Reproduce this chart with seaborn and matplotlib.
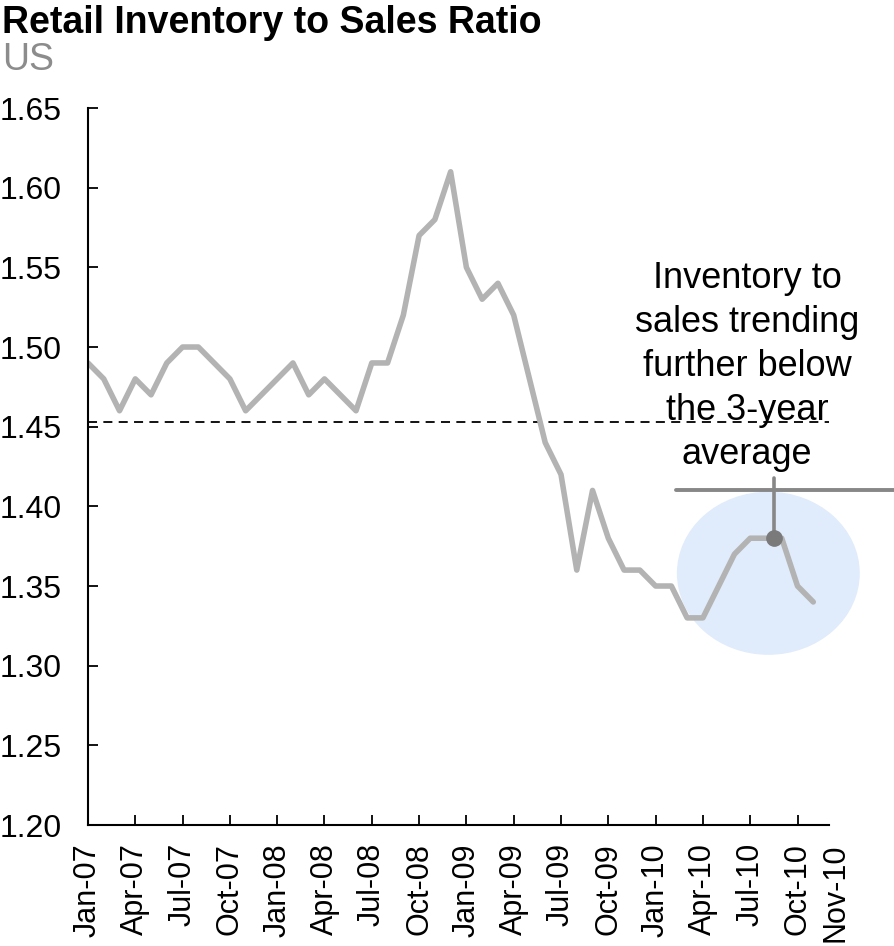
import numpy as np
import pandas as pd
import matplotlib
matplotlib.use("Agg")
import matplotlib.pyplot as plt
import seaborn as sns
from matplotlib.patches import Ellipse
from matplotlib.ticker import FormatStrFormatter
from matplotlib.transforms import blended_transform_factory, ScaledTranslation

# Monthly retail inventory-to-sales ratio, Jan-2007 .. Nov-2010
months = pd.date_range("2007-01-01", "2010-11-01", freq="MS")
ratio = [
    1.49, 1.48, 1.46, 1.48, 1.47, 1.49, 1.50, 1.50, 1.49, 1.48, 1.46, 1.47,  # 2007
    1.48, 1.49, 1.47, 1.48, 1.47, 1.46, 1.49, 1.49, 1.52, 1.57, 1.58, 1.61,  # 2008
    1.55, 1.53, 1.54, 1.52, 1.48, 1.44, 1.42, 1.36, 1.41, 1.38, 1.36, 1.36,  # 2009
    1.35, 1.35, 1.33, 1.33, 1.35, 1.37, 1.38, 1.38, 1.38, 1.35, 1.34,        # 2010
]
avg_level = 1.453          # 3-year average
callout_value = 1.38       # highlighted reading
month_labels = [d.strftime("%b-%y") for d in months]
y_ticks = [1.20, 1.25, 1.30, 1.35, 1.40, 1.45, 1.50, 1.55, 1.60, 1.65]

title = "Retail Inventory to Sales Ratio"
subtitle = "US"
note = "Inventory to\nsales trending\nfurther below\nthe 3-year\naverage"

sns.set_theme(style="white")
plt.rcParams["font.family"] = ["Liberation Sans", "DejaVu Sans"]

df = pd.DataFrame({"month": np.arange(len(ratio)), "ratio": ratio})

fig = plt.figure(figsize=(8.95, 9.46), dpi=100)
ax = fig.add_axes([0.0983, 0.1279, 0.828, 0.7579])

# highlight bubble behind the latest readings
ax.add_patch(Ellipse((43.15, 1.358), 11.6, 0.1024, facecolor="#e0ecfb",
                     edgecolor="none", zorder=0, clip_on=False))

ax.axhline(avg_level, color="black", lw=1.3, ls=(0, (5, 3.5)), zorder=1)

sns.lineplot(data=df, x="month", y="ratio", color="#b3b3b3", lw=4.0,
             ax=ax, zorder=2)

# callout
ax.plot([37.3, 51.5], [1.41, 1.41], color="#878787", lw=2.8, clip_on=False, zorder=3)
ax.plot([43.5, 43.5], [callout_value, 1.4176], color="#878787", lw=2.6, zorder=3)
ax.plot([43.5], [callout_value], "o", color="#7a7a7a", ms=11, zorder=4)
ax.text(41.8, 1.554, note, ha="center", va="top", fontsize=26,
        linespacing=1.33, color="black", zorder=5)

ax.set_xlim(0, 47)
ax.set_ylim(1.20, 1.65)
ax.set_yticks(y_ticks)
ax.yaxis.set_major_formatter(FormatStrFormatter("%.2f"))

tick_pos = list(range(0, len(ratio) - 1, 3))
ax.set_xticks(tick_pos, labels=[month_labels[i] for i in tick_pos], rotation=90)

# final month label, nudged right of the last tick
last = len(ratio) - 1
trans = blended_transform_factory(ax.transData, ax.transAxes) + \
    ScaledTranslation(0.22, -0.18, fig.dpi_scale_trans)
ax.text(last, 0, month_labels[last], rotation=90, ha="center", va="top",
        fontsize=22, color="black", transform=trans, clip_on=False)

ax.tick_params(axis="both", direction="in", length=7, width=1.3,
               colors="black", labelsize=23, bottom=True, left=True)
ax.tick_params(axis="x", pad=13, labelsize=22)
ax.tick_params(axis="y", pad=19)
ax.set_xlabel("")
ax.set_ylabel("")

for side in ("top", "right"):
    ax.spines[side].set_visible(False)
for side in ("left", "bottom"):
    ax.spines[side].set_color("black")
    ax.spines[side].set_linewidth(1.5)

fig.text(0.002, 1 - 33 / 946, title, fontsize=27, fontweight="bold",
         ha="left", va="baseline", color="black")
fig.text(0.002, 1 - 70 / 946, subtitle, fontsize=27, ha="left",
         va="baseline", color="#8c8c8c")

fig.savefig("out.png", dpi=100)
